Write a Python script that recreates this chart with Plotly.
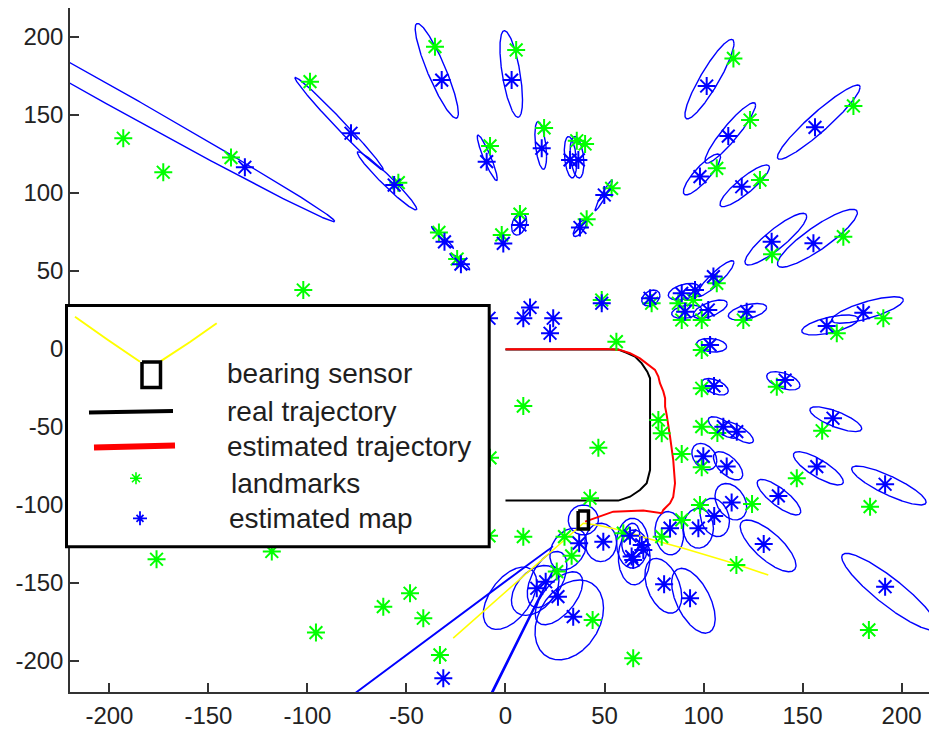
import numpy as np
import plotly.graph_objects as go

# ---------------- data ----------------
landmark_x = [-193.0, -172.8, -138.6, -98.7, -102.1, -54.1, -35.6, -33.6, -24.4,
              5.4, -7.8, 19.5, 36.0, 40.2, 53.6, 7.3, -1.9, 41.0,
              115.1, 123.5, 106.7, 128.5, 175.7, 134.6, 170.6,
              48.6, 73.8, 87.3, 94.8, 106.7, 56.0, 89.0, 99.1, 120.1, 167.3, 190.8,
              99.1, 99.1, 137.0, 99.1, 107.0, 77.2, 78.9, 89.0, 99.1, 159.9, 46.9, 9.0, 147.1, 184.1,
              42.7, 98.2, 124.5, 89.0, 78.9, 59.5, 29.8, 9.0, 33.4, 25.9, 116.6, 44.0, 64.5, 183.5,
              -7.8, -8.3, -118.0, -176.2, -95.7, -61.7, -48.2, -41.5, -33.1]
landmark_y = [134.9, 113.1, 122.5, 171.2, 37.6, 106.4, 193.6, 74.5, 57.5,
              191.5, 130.0, 141.5, 133.3, 131.2, 102.8, 86.3, 72.9, 83.0,
              186.1, 146.6, 115.6, 108.1, 155.6, 60.5, 71.8,
              31.2, 29.1, 29.1, 31.2, 41.9, 4.5, 18.4, 18.4, 18.4, 9.9, 19.5,
              -0.8, -25.4, -24.4, -50.0, -54.0, -45.7, -54.2, -67.5, -76.0, -52.6, -63.5, -36.8, -83.1, -101.3,
              -95.9, -100.2, -99.5, -109.8, -120.5, -118.3, -120.5, -120.5, -132.8, -142.9, -138.7, -173.9, -198.5, -180.3,
              -70.0, -120.0, -130.0, -135.0, -182.0, -165.4, -156.8, -172.8, -196.3]

map_x = [-131.6, -78.0, -56.2, -32.2, 3.1, -9.5, 18.3, 32.6, 36.8, 49.9, 7.3, -1.1, 37.6, -30.8, -22.5,
         101.6, 112.5, 98.2, 119.3, 156.3, 134.4, 155.5,
         48.6, 73.0, 89.0, 95.7, 105.0, 90.7, 102.4, 121.8, 162.2, 180.7,
         12.4, 9.0, 24.1, 22.5, -8.3,
         103.3, 105.3, 141.2, 110.0, 116.8, 165.4, 99.9, 111.7, 157.2, 191.7, 137.8, 114.2, 105.4, 97.4, 83.1, 130.4,
         37.2, 49.4, 62.9, 68.8, 69.6, 63.7, 64.5,
         80.1, 93.2, 15.8, 20.3, 26.5, 34.2, 191.7, -31.4]
map_y = [116.3, 138.1, 104.9, 172.2, 172.2, 119.9, 128.5, 121.0, 121.0, 98.5, 79.3, 67.5, 77.7, 68.5, 54.2,
         168.4, 136.3, 110.3, 103.8, 141.9, 68.6, 67.6,
         29.1, 32.3, 35.5, 37.6, 46.2, 23.7, 24.8, 23.7, 14.6, 23.1,
         26.4, 19.5, 19.5, 9.9, 19.5,
         2.4, -23.9, -20.1, -50.0, -53.2, -44.6, -69.0, -75.6, -75.6, -86.9, -94.4, -98.6, -107.2, -115.1, -115.1, -125.3,
         -124.7, -123.7, -120.0, -125.8, -129.0, -133.3, -135.4,
         -151.0, -160.0, -153.6, -149.4, -159.0, -171.8, -152.6, -211.3]

# uncertainty ellipses: centre, half extents (x, y) and correlation
ell_cx = [-223.0, -84.0, -59.8, -34.7, 2.9, -9.2, 17.8, 32.8, 36.1, 49.6, 6.9, 37.6, -31.8, -23.0,
          103.0, 113.5, 99.2, 120.8, 158.2, 136.5, 157.5,
          73.4, 90.2, 106.0, 91.5, 103.4, 122.2, 163.9, 182.8,
          104.1, 105.8, 140.3, 110.0, 117.6, 166.8,
          100.4, 112.4, 158.0, 193.6, 138.1, 113.8, 105.7, 97.4, 82.7, 132.6, 94.9, 79.7, 193.8,
          39.3, 31.7, 48.1, 64.1, 65.0, 63.3,
          15.0, 21.0, 27.0, 32.2, 2.3, -114.0, -33.7]
ell_cy = [179.0, 144.2, 107.6, 178.1, 176.1, 122.4, 130.3, 122.7, 122.7, 98.3, 79.8, 77.2, 71.3, 55.8,
          172.8, 138.3, 111.7, 104.4, 145.2, 70.2, 70.8,
          32.5, 36.5, 44.9, 23.7, 25.3, 23.7, 15.2, 24.8,
          2.2, -24.4, -20.6, -50.5, -53.7, -45.2,
          -69.2, -75.1, -76.7, -87.7, -95.2, -98.1, -108.2, -115.1, -118.3, -126.4, -161.6, -152.0, -155.8,
          -109.8, -128.5, -124.2, -124.7, -133.8, -122.6,
          -155.0, -148.0, -160.0, -173.9, -160.0, -256.8, -288.5]
ell_hx = [136.8, 22.3, 15.0, 10.9, 5.7, 5.05, 2.95, 3.1, 3.5, 4.4, 3.8, 3.4, 5.5, 5.0,
          12.4, 12.8, 9.4, 12.5, 20.9, 15.6, 20.2,
          4.6, 8.0, 9.4, 7.6, 8.6, 9.7, 14.3, 18.1,
          7.6, 6.7, 8.4, 7.6, 7.6, 13.1,
          6.3, 7.4, 12.6, 18.8, 11.0, 8.0, 7.4, 7.6, 7.2, 14.1, 11.0, 9.3, 24.0,
          7.6, 9.3, 8.0, 8.0, 8.0, 4.6,
          12.0, 10.0, 12.0, 17.3, 13.5, 138.0, 58.7]
ell_hy = [97.6, 29.7, 18.7, 30.4, 27.8, 14.6, 15.3, 13.3, 13.3, 9.8, 7.0, 5.3, 6.9, 5.3,
          25.5, 19.4, 13.1, 13.4, 23.8, 16.6, 18.6,
          5.1, 5.3, 11.5, 4.3, 5.9, 5.3, 6.4, 8.5,
          4.4, 5.3, 5.9, 6.9, 6.9, 8.0,
          8.5, 9.1, 10.7, 12.5, 11.4, 11.7, 12.3, 12.8, 13.9, 16.6, 20.8, 17.6, 24.6,
          9.6, 13.4, 12.3, 16.0, 17.6, 10.7,
          16.0, 18.0, 17.0, 25.6, 20.0, 130.1, 148.8]
ell_rho = [-0.9976, -0.99, -0.97, -0.89, -0.6, -0.92, -0.45, -0.3, -0.3, 0.96, 0.3, 0.7, -0.98, -0.95,
           0.90, 0.92, 0.85, 0.88, 0.94, 0.88, 0.88,
           0.3, 0.4, 0.9, 0.3, 0.6, 0.5, 0.6, 0.75,
           -0.2, -0.5, -0.5, -0.7, -0.75, -0.75,
           -0.3, -0.6, -0.8, -0.85, -0.8, -0.3, -0.2, 0.0, -0.1, -0.75, -0.55, -0.4, -0.9,
           0.0, 0.3, 0.0, 0.0, 0.0, 0.2,
           0.4, 0.5, 0.6, 0.3, 0.5, 0.999985, 0.99995]

real_x = [0, 57.0, 61.2, 65.4, 68.8, 71.6, 73.0, 73.0, 71.3, 67.9, 62.9, 57.0, 0]
real_y = [-0.6, -0.6, -2.6, -5.1, -9.4, -14.7, -19.0, -77.8, -86.3, -90.6, -94.9, -97.4, -97.4]

est_x = [0, 27.5, 51.1, 57.8, 62.9, 67.9, 72.1, 75.5, 77.2, 78.0, 79.7, 80.6, 80.6, 81.4, 83.1,
         84.7, 85.6, 84.7, 83.1, 79.7, 78.9, 69.6, 54.4, 47.7, 40.2]
est_y = [-0.3, -0.2, -0.2, -0.8, -2.9, -6.2, -10.4, -13.6, -17.9, -22.1, -27.4, -31.7, -37.2, -42.4, -56.4,
         -71.3, -86.3, -95.0, -99.1, -103.4, -105.5, -103.8, -104.5, -107.7, -110.9]

sensor_x = [39.3]
sensor_y = [-109.8]

fov_x = [-26.4, 39.3, 46.1, 57.8, 74.6, 89.8, 115.1, 132.7]
fov_y = [-185.6, -111.9, -113.0, -116.2, -122.6, -128.0, -137.6, -145.1]

x_ticks = [-200, -150, -100, -50, 0, 50, 100, 150, 200]
y_ticks = [-200, -150, -100, -50, 0, 50, 100, 150, 200]
x_tick_labels = ['-200', '-150', '-100', '-50', '0', '50', '100', '150', '200']
y_tick_labels = ['-200', '-150', '-100', '-50', '0', '50', '100', '150', '200']

legend_labels = ['bearing sensor', 'real trajectory', 'estimated trajectory', 'landmarks', 'estimated map']

# ---------------- figure ----------------
fig = go.Figure()

t = np.linspace(0, 2 * np.pi, 721)
ex, ey = [], []
for cx, cy, hx, hy, r in zip(ell_cx, ell_cy, ell_hx, ell_hy, ell_rho):
    phi = np.arccos(r)
    ex += list(cx + hx * np.cos(t)) + [None]
    ey += list(cy + hy * np.cos(t - phi)) + [None]
fig.add_trace(go.Scatter(x=ex, y=ey, mode='lines', line=dict(color='#0000ff', width=1.4),
                         hoverinfo='skip', showlegend=False))

fig.add_trace(go.Scatter(x=real_x, y=real_y, mode='lines', line=dict(color='#000000', width=2),
                         showlegend=False))
fig.add_trace(go.Scatter(x=est_x, y=est_y, mode='lines', line=dict(color='#ff0000', width=2),
                         showlegend=False))
fig.add_trace(go.Scatter(x=fov_x, y=fov_y, mode='lines', line=dict(color='#ffff00', width=1.6),
                         showlegend=False))
fig.add_trace(go.Scatter(x=landmark_x, y=landmark_y, mode='markers',
                         marker=dict(symbol='asterisk-open', size=15, color='#00ff00',
                                     line=dict(width=2, color='#00ff00')),
                         showlegend=False))
fig.add_trace(go.Scatter(x=map_x, y=map_y, mode='markers',
                         marker=dict(symbol='asterisk-open', size=15, color='#0000ff',
                                     line=dict(width=2, color='#0000ff')),
                         showlegend=False))
# robot / sensor body (small box around the sensor position)
bw, bh = 2.6, 5.8
sx, sy = sensor_x[0], sensor_y[0]
fig.add_trace(go.Scatter(x=[sx - bw, sx + bw, sx + bw, sx - bw, sx - bw],
                         y=[sy + bh, sy + bh, sy - bh, sy - bh, sy + bh],
                         mode='lines', line=dict(color='#000000', width=3.5), showlegend=False))

# ---------------- layout ----------------
# the page body has an 8px margin; figure is sized/placed to compensate
OFF = 8
W, H = 929, 723
L, R, T, B = 62, 0, 0, 39
PX0, PY0 = L + OFF, T + OFF            # plot area top-left on screen
PW, PH = W - L - R, H - T - B


def P(px, py):
    return (px - PX0) / PW, (PY0 + PH - py) / PH


shapes = []
x0, y0 = P(66.5, 305.5)
x1, y1 = P(489.2, 546.8)
shapes.append(dict(type='rect', xref='paper', yref='paper', x0=x0, y0=y1, x1=x1, y1=y0,
                   line=dict(color='#000000', width=3), fillcolor='#ffffff', layer='above'))


def path(pts_list):
    s = ''
    for pts in pts_list:
        for i, (px, py) in enumerate(pts):
            a, b = P(px, py)
            s += ('M' if i == 0 else 'L') + f'{a:.5f},{b:.5f} '
    return s


shapes.append(dict(type='path', xref='paper', yref='paper', layer='above',
                   path=path([[(75, 316.7), (108, 340), (140, 361.7)], [(160, 361.7), (190, 342), (216.7, 323.3)]]),
                   line=dict(color='#ffff00', width=2)))
shapes.append(dict(type='path', xref='paper', yref='paper', layer='above',
                   path=path([[(142, 362), (160.5, 362), (160.5, 387.5), (142, 387.5), (142, 362)]]),
                   line=dict(color='#000000', width=3.5)))
shapes.append(dict(type='path', xref='paper', yref='paper', layer='above',
                   path=path([[(89, 412.5), (173, 411)]]), line=dict(color='#000000', width=4)))
shapes.append(dict(type='path', xref='paper', yref='paper', layer='above',
                   path=path([[(94, 447.5), (175, 445.5)]]), line=dict(color='#ff0000', width=6)))


def star(cx, cy, r, d):
    return [[(cx, cy - r), (cx, cy + r)], [(cx - r, cy), (cx + r, cy)],
            [(cx - d, cy - d), (cx + d, cy + d)], [(cx - d, cy + d), (cx + d, cy - d)]]


shapes.append(dict(type='path', xref='paper', yref='paper', layer='above',
                   path=path(star(136, 478.3, 6, 4)), line=dict(color='#00ff00', width=1.6)))
shapes.append(dict(type='path', xref='paper', yref='paper', layer='above',
                   path=path(star(140, 518.3, 7, 3.5)), line=dict(color='#0000ff', width=1.8)))

annotations = []
for lab, py, px in zip(legend_labels, [373.3, 411.7, 446.7, 483.3, 518.3], [225, 225, 224.5, 228.5, 227]):
    ax, ay = P(px, py)
    annotations.append(dict(text=lab, xref='paper', yref='paper', x=ax, y=ay, xanchor='left',
                            yanchor='middle', showarrow=False,
                            font=dict(family='Liberation Sans, Arial', size=28, color='#1e1e1e')))

axis_common = dict(ticks='inside', ticklen=9, tickwidth=1.5, tickcolor='#333333',
                   showline=True, linecolor='#333333', linewidth=1.5, mirror=False,
                   showgrid=False, zeroline=False, automargin=False,
                   tickfont=dict(family='Liberation Sans, Arial', size=24, color='#222222'))

fig.update_layout(
    width=W, height=H,
    margin=dict(l=L, r=R, t=T, b=B, pad=0),
    paper_bgcolor='white', plot_bgcolor='white',
    showlegend=False,
    xaxis=dict(range=[-219.9, 217.9], tickmode='array', tickvals=x_ticks, ticktext=x_tick_labels,
               ticklabelstandoff=1, **axis_common),
    yaxis=dict(range=[-220.1, 218.4], tickmode='array', tickvals=y_ticks, ticktext=y_tick_labels,
               ticklabelstandoff=0, **axis_common),
    shapes=shapes,
    annotations=annotations,
)

fig.write_html('out.html')
